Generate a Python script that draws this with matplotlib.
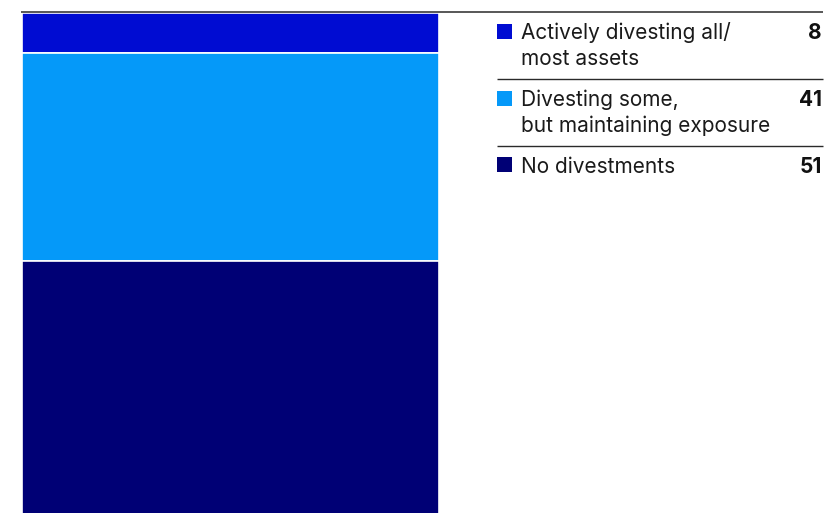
import matplotlib
matplotlib.use("Agg")
import matplotlib.pyplot as plt

categories = ["Actively divesting all/\nmost assets",
              "Divesting some,\nbut maintaining exposure",
              "No divestments"]
values = [8, 41, 51]
colors = ["#000CD2", "#0599F9", "#000075"]

W, H = 828, 513
fig = plt.figure(figsize=(W / 100, H / 100), dpi=100)
plt.rcParams['font.family'] = ['Inter', 'DejaVu Sans']

# bar axes (pixel layout: x 22..438, y 13..519)
left, right, top, bottom = 22, 439, 13, 519
ax = fig.add_axes([left / W, (H - bottom) / H, (right - left) / W, (bottom - top) / H])
start = 0
for v, c in zip(values, colors):
    ax.bar(0, v, bottom=start, width=1.0, color=c, edgecolor="white", linewidth=1.2)
    start += v
ax.set_xlim(-0.5, 0.5)
ax.set_ylim(100, 0)
ax.axis("off")

# overlay in pixel coordinates
ov = fig.add_axes([0, 0, 1, 1])
ov.set_xlim(0, W)
ov.set_ylim(H, 0)
ov.axis("off")
ov.plot([21, 823], [12.3, 12.3], color="#2a2a2a", lw=1.1, solid_capstyle="butt")

row_tops = [12.3, 79.3, 145.7]
line_gap = 25.5
for i, (cat, v, c) in enumerate(zip(categories, values, colors)):
    y0 = row_tops[i]
    if i > 0:
        ov.plot([497, 823], [y0, y0], color="#2a2a2a", lw=1.0, solid_capstyle="butt")
    base = y0 + 27
    ov.add_patch(plt.Rectangle((497, base - 15.5), 15, 15, color=c, lw=0))
    for j, ln in enumerate(cat.split("\n")):
        ov.text(521, base + j * line_gap, ln, fontsize=15, va="baseline", ha="left",
                color="#1a1a1a")
    ov.text(822, base, str(v), fontsize=15, fontweight="bold", va="baseline", ha="right",
            color="#111111")

fig.savefig("out.png", dpi=100)
